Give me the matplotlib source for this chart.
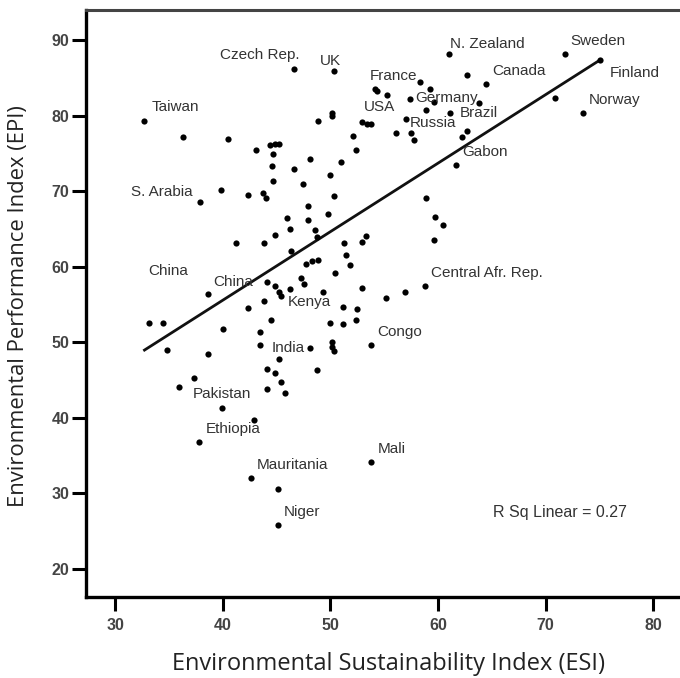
import numpy as np
from matplotlib import pyplot as plt

# Labelled countries: ESI (x) and EPI (y).
names = ["Czech Rep.", "UK", "Taiwan", "S. Arabia", "China", "China", "Kenya",
         "India", "Pakistan", "Ethiopia", "Mauritania", "Niger", "Mali", "Congo",
         "Central Afr. Rep.", "N. Zealand", "Sweden", "Finland", "Canada", "Norway",
         "France", "USA", "Germany", "Russia", "Brazil", "Gabon"]
esi_named = [46.6, 50.3, 32.7, 37.9, 38.6, 44.1, 45.4,
             48.1, 39.9, 37.8, 42.6, 45.1, 53.8, 53.8,
             58.8, 61.0, 71.8, 75.1, 64.5, 73.5,
             54.1, 52.9, 57.4, 57.0, 61.1, 61.7]
epi_named = [86.2, 85.9, 79.3, 68.5, 56.4, 58.0, 56.1,
             49.3, 41.3, 36.8, 32.1, 25.8, 34.1, 49.6,
             57.5, 88.2, 88.1, 87.4, 84.2, 80.4,
             83.5, 79.2, 82.2, 79.6, 80.3, 73.5]

# Unlabelled countries
esi_other = [36.3, 40.5, 48.8, 50.1, 50.1, 53.4, 53.8, 56.1, 52.1, 52.4,
             43.1, 44.4, 44.8, 45.2, 44.7, 48.1, 51.0, 44.6, 46.6, 50.0,
             44.7, 47.4, 42.3, 43.7, 44.0, 50.3, 39.8, 47.9, 49.8, 46.0,
             47.9, 46.2, 48.6, 48.7, 44.8, 43.8, 41.2, 46.3, 51.3, 52.9,
             53.3, 51.4, 51.8, 47.7, 48.3, 48.8, 50.4, 47.3, 47.5, 52.9,
             44.8, 45.2, 46.2, 49.3, 55.2, 56.9, 43.8, 42.3, 51.2, 52.5,
             52.4, 44.5, 50.0, 51.2, 43.4, 43.4, 50.1, 50.1, 50.3, 45.2,
             48.7, 44.1, 44.8, 45.4, 45.8, 44.1, 42.9, 33.1, 34.4, 34.8,
             38.6, 40.0, 37.3, 35.9, 45.1,
             62.7, 70.9, 58.3, 54.3, 55.3, 59.3, 59.6, 63.8, 58.9, 57.5,
             57.8, 62.2, 62.7, 58.9, 59.7, 60.5, 59.6]
epi_other = [77.1, 76.9, 79.3, 80.4, 79.9, 78.9, 78.9, 77.7, 77.3, 75.5,
             75.4, 76.1, 76.3, 76.3, 74.9, 74.3, 73.9, 73.3, 72.9, 72.1,
             71.4, 71.0, 69.5, 69.7, 69.1, 69.4, 70.2, 68.0, 67.0, 66.4,
             66.2, 65.0, 64.9, 63.9, 64.2, 63.2, 63.2, 62.1, 63.1, 63.3,
             64.0, 61.6, 60.2, 60.3, 60.7, 60.9, 59.2, 58.5, 57.7, 57.2,
             57.4, 56.7, 57.1, 56.7, 55.8, 56.6, 55.4, 54.5, 54.7, 54.4,
             53.0, 53.0, 52.5, 52.4, 51.3, 49.7, 50.1, 49.4, 48.8, 47.8,
             46.3, 46.5, 45.9, 44.7, 43.3, 43.8, 39.7, 52.5, 52.5, 49.0,
             48.5, 51.7, 45.3, 44.1, 30.6,
             85.4, 82.3, 84.5, 83.2, 82.7, 83.5, 81.8, 81.6, 80.7, 77.7,
             76.8, 77.2, 77.9, 69.1, 66.6, 65.5, 63.5]

# Linear fit
fit_slope = 0.906
fit_intercept = 19.34
r_sq = 0.27

xticks = [30, 40, 50, 60, 70, 80]
yticks = [20, 30, 40, 50, 60, 70, 80, 90]

# label offsets in pixels (dx, dy) from the dot
offsets = {
    "Czech Rep.": (-74, 14), "UK": (-14, 10), "Taiwan": (7, 14),
    "S. Arabia": (-69, 10), "Kenya": (7, -6), "India": (-38, 0),
    "Pakistan": (-29, 14), "Germany": (5, 1), "Russia": (4, -4),
    "Brazil": (10, 0), "Finland": (9, -13), "France": (-5, 13),
    "USA": (2, 15), "N. Zealand": (1, 10),
}
china_offsets = [(-60, 23), (-54, 0)]

fig = plt.figure(figsize=(6.8, 6.78), dpi=100)
ax = fig.add_axes([86 / 680, 1 - 597 / 678, 594 / 680, 587 / 678])

ax.scatter(esi_other, epi_other, s=20, color='black', zorder=3, linewidths=0)
ax.scatter(esi_named, epi_named, s=20, color='black', zorder=3, linewidths=0)

all_x = np.array(esi_named + esi_other)
fx = np.array([all_x.min(), all_x.max()])
ax.plot(fx, fit_intercept + fit_slope * fx, color='#111', lw=2, zorder=2)

ci = 0
for name, x, y in zip(names, esi_named, epi_named):
    if name == "China":
        off = china_offsets[ci]
        ci += 1
    else:
        off = offsets.get(name, (6, 13))
    ax.annotate(name, (x, y), xytext=off, textcoords='offset pixels',
                ha='left', va='center', fontsize=11, color='#333',
                family='Liberation Sans')

ax.text(493, 678 - 512, 'R Sq Linear = {:.2f}'.format(r_sq), transform=None,
        ha='left', va='center', fontsize=11.5, color='#333', family='Liberation Sans')

ax.set_xlim(27.26, 82.51)
ax.set_ylim(16.29, 93.97)
ax.set_xticks(xticks)
ax.set_yticks(yticks)

for side in ['left', 'bottom']:
    ax.spines[side].set_linewidth(2.4)
    ax.spines[side].set_color('black')
ax.spines['top'].set_linewidth(2.2)
ax.spines['top'].set_color('#444')
ax.spines['right'].set_visible(False)

ax.tick_params(direction='out', length=10, width=2.2, color='black',
               labelsize=11.5, labelcolor='#444')
ax.tick_params(axis='x', pad=5)
ax.tick_params(axis='y', pad=2)
for lab in ax.get_xticklabels() + ax.get_yticklabels():
    lab.set_fontfamily('Liberation Sans')
    lab.set_fontweight('bold')

fig.text(389 / 680, 1 - 664 / 678, 'Environmental Sustainability Index (ESI)',
         ha='center', va='center', fontsize=17, color='#222', family='Open Sans')
fig.text(19 / 680, 1 - 306 / 678, 'Environmental Performance Index (EPI)',
         ha='center', va='center', rotation=90, fontsize=15.8, color='#222',
         family='Open Sans')

fig.savefig('out.png', dpi=100)
